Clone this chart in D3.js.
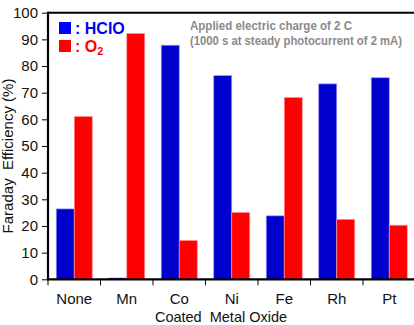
<!DOCTYPE html>
<html>
<head>
<meta charset="utf-8">
<script src="https://cdn.jsdelivr.net/npm/d3@7/dist/d3.min.js"></script>
<style>
  body { margin: 0; background: #fff; }
  svg { display: block; font-family: Arial, "Liberation Sans", sans-serif; }
</style>
</head>
<body>
<div id="chart"></div>
<script>
let categories = ["None", "Mn", "Co", "Ni", "Fe", "Rh", "Pt"];
let hclo = [26.4, 0.5, 87.8, 76.4, 23.8, 73.3, 75.6];
let o2 = [61.1, 92.2, 14.6, 25.1, 68.2, 22.5, 20.3];
let yTicks = [0, 10, 20, 30, 40, 50, 60, 70, 80, 90, 100];

let width = 414, height = 325;
let plotLeft = 48, plotRight = 415.5, plotTop = 12.7, plotBottom = 279.3;

let svg = d3.select("#chart")
      .append("svg")
      .attr("width", width)
      .attr("height", height);

let x = d3.scaleBand()
      .domain(categories)
      .range([plotLeft, plotRight])
      .padding(0);

let inner = d3.scaleBand()
      .domain(["hclo", "o2"])
      .range([0, x.bandwidth()])
      .paddingInner(0)
      .paddingOuter(0.457);

let y = d3.scaleLinear()
      .domain([0, 100])
      .range([plotBottom, plotTop]);

let rows = categories.map(function(c, i) {
    return {cat: c, hclo: hclo[i], o2: o2[i]};
});

let colors = {hclo: "#0000cc", o2: "#ff0000"};
let strokes = {hclo: "#9a9aff", o2: "#ff9a9a"};

// bars
let group = svg.selectAll(".cat")
      .data(rows)
      .enter().append("g")
      .attr("class", "cat")
      .attr("transform", function(d) { return "translate(" + x(d.cat) + ",0)"; });

group.selectAll("rect")
    .data(function(d) {
        return ["hclo", "o2"].map(function(k) { return {key: k, value: d[k]}; });
    })
    .enter().append("rect")
    .attr("x", function(d) { return inner(d.key); })
    .attr("width", inner.bandwidth())
    .attr("y", function(d) { return y(d.value); })
    .attr("height", function(d) { return plotBottom - y(d.value); })
    .attr("fill", function(d) { return colors[d.key]; })
    .attr("stroke", function(d) { return strokes[d.key]; })
    .attr("stroke-width", 0.7);

// frame (top line)
svg.append("line")
    .attr("x1", plotLeft).attr("x2", plotRight)
    .attr("y1", plotTop).attr("y2", plotTop)
    .attr("stroke", "#000").attr("stroke-width", 2);

// y axis
let yAxis = svg.append("g")
      .attr("transform", "translate(" + plotLeft + ",0)")
      .call(d3.axisLeft(y).tickValues(yTicks).tickSize(6).tickPadding(4));
yAxis.select(".domain").attr("stroke-width", 2.2).attr("d", "M0," + (plotBottom + 1) + "V" + (plotTop - 1));
yAxis.selectAll(".tick line").attr("stroke-width", 1);
yAxis.selectAll("text")
    .attr("font-size", "15px")
    .attr("font-family", "Arial, 'Liberation Sans', sans-serif")
    .attr("fill", "#111");

// x axis: ticks at category boundaries
let xAxis = svg.append("g")
      .attr("transform", "translate(0," + plotBottom + ")");
xAxis.append("line")
    .attr("x1", plotLeft - 1).attr("x2", plotRight)
    .attr("stroke", "#000").attr("stroke-width", 2.2);
xAxis.selectAll(".xt")
    .data(categories.concat(["end"]))
    .enter().append("line")
    .attr("class", "xt")
    .attr("x1", function(d, i) { return plotLeft + i * x.step(); })
    .attr("x2", function(d, i) { return plotLeft + i * x.step(); })
    .attr("y1", 0).attr("y2", 6)
    .attr("stroke", "#000").attr("stroke-width", 1);
xAxis.selectAll(".xl")
    .data(categories)
    .enter().append("text")
    .attr("class", "xl")
    .attr("x", function(d) { return x(d) + x.bandwidth() / 2; })
    .attr("y", 25)
    .attr("text-anchor", "middle")
    .attr("font-size", "15px")
    .attr("fill", "#111")
    .text(function(d) { return d; });

// axis titles
svg.append("text")
    .attr("x", 221).attr("y", 322)
    .attr("text-anchor", "middle")
    .attr("font-size", "14.5px")
    .attr("fill", "#111")
    .attr("xml:space", "preserve")
    .text("Coated  Metal Oxide");

svg.append("text")
    .attr("transform", "translate(12.5,156) rotate(-90)")
    .attr("text-anchor", "middle")
    .attr("font-size", "15px")
    .attr("fill", "#111")
    .attr("xml:space", "preserve")
    .text("Faraday  Efficiency (%)");

// legend
let legend = [
    {label: ": HCIO", color: "#0000ff", y: 22},
    {label: ": O", sub: "2", color: "#ff0000", y: 40}
];
let leg = svg.selectAll(".leg")
      .data(legend)
      .enter().append("g")
      .attr("class", "leg");
leg.append("rect")
    .attr("x", 59).attr("y", function(d) { return d.y; })
    .attr("width", 12).attr("height", 12)
    .attr("fill", function(d) { return d.color; });
let lt = leg.append("text")
    .attr("x", 75).attr("y", function(d) { return d.y + 11.5; })
    .attr("font-size", "16px")
    .attr("font-weight", "bold")
    .attr("fill", function(d) { return d.color; })
    .text(function(d) { return d.label; });
lt.filter(function(d) { return d.sub; })
    .append("tspan")
    .attr("dy", 3)
    .attr("font-size", "11px")
    .text(function(d) { return d.sub; });

// note
let note = ["Applied electric charge of 2 C", "(1000 s at steady photocurrent of 2 mA)"];
let noteLen = [162, 212];
svg.selectAll(".note")
    .data(note)
    .enter().append("text")
    .attr("class", "note")
    .attr("x", 190)
    .attr("y", function(d, i) { return 30 + i * 14.5; })
    .attr("font-size", "12px")
    .attr("font-weight", "bold")
    .attr("fill", "#8a8a8a")
    .attr("textLength", function(d, i) { return noteLen[i]; })
    .attr("lengthAdjust", "spacingAndGlyphs")
    .text(function(d) { return d; });
</script>
</body>
</html>
